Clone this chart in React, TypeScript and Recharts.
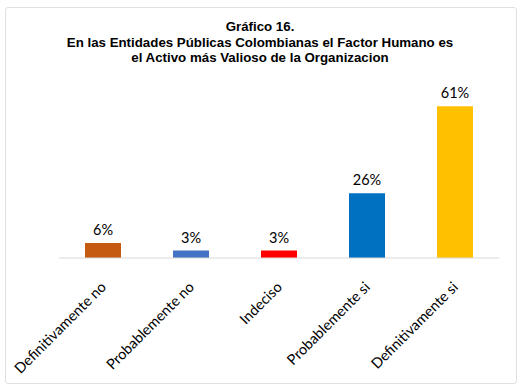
import { BarChart, Bar, XAxis, YAxis, Cell, LabelList } from "recharts";

const categories = ["Definitivamente no", "Probablemente no", "Indeciso", "Probablemente si", "Definitivamente si"];
const values = [0.06, 0.03, 0.03, 0.26, 0.61];
const colors = ["#C55A11", "#4472C4", "#FF0000", "#0070C0", "#FFC000"];

const data = categories.map((name, i) => ({ name, value: values[i] }));

const FONT = "Lato, 'Open Sans', sans-serif";

const RotatedTick = ({ x, y, payload }: any) => (
  <text
    x={x + 4}
    y={y + 22}
    transform={`rotate(-45, ${x + 4}, ${y + 22})`}
    textAnchor="end"
    fontFamily={FONT}
    fontSize={14.5}
    fill="#000"
  >
    {payload.value}
  </text>
);

export default function App() {
  return (
    <div style={{ position: "absolute", left: 0, top: 0, width: 525, height: 391, background: "#fff" }}>
      <div
        style={{
          position: "absolute", left: 5, top: 7, width: 510, height: 375,
          border: "1px solid #e0e0e0", borderRadius: 3,
        }}
      />
      <div
        style={{
          position: "absolute", left: 0, top: 19, width: 520, textAlign: "center",
          fontFamily: "'Liberation Sans', Arial, sans-serif", fontWeight: "bold",
          fontSize: 13.3, lineHeight: "15.5px", color: "#000",
        }}
      >
        Gráfico 16.<br />
        En las Entidades Públicas Colombianas el Factor Humano es<br />
        el Activo más Valioso de la Organizacion
      </div>
      <div style={{ position: "absolute", left: 0, top: 0 }}>
        <BarChart
          width={525}
          height={391}
          data={data}
          margin={{ top: 84, right: 26, left: 59, bottom: 13 }}
        >
          <XAxis
            dataKey="name"
            height={120}
            interval={0}
            tickLine={false}
            axisLine={{ stroke: "#d9d9d9" }}
            tick={<RotatedTick />}
          />
          <YAxis hide domain={[0, 0.7]} />
          <Bar dataKey="value" barSize={36} isAnimationActive={false}>
            {data.map((d, i) => (
              <Cell key={d.name} fill={colors[i]} />
            ))}
            <LabelList
              dataKey="value"
              position="top"
              offset={8}
              formatter={(v: any) => `${Math.round(v * 100)}%`}
              style={{ fontFamily: FONT, fontSize: 14.5, fill: "#000" }}
            />
          </Bar>
        </BarChart>
      </div>
    </div>
  );
}
